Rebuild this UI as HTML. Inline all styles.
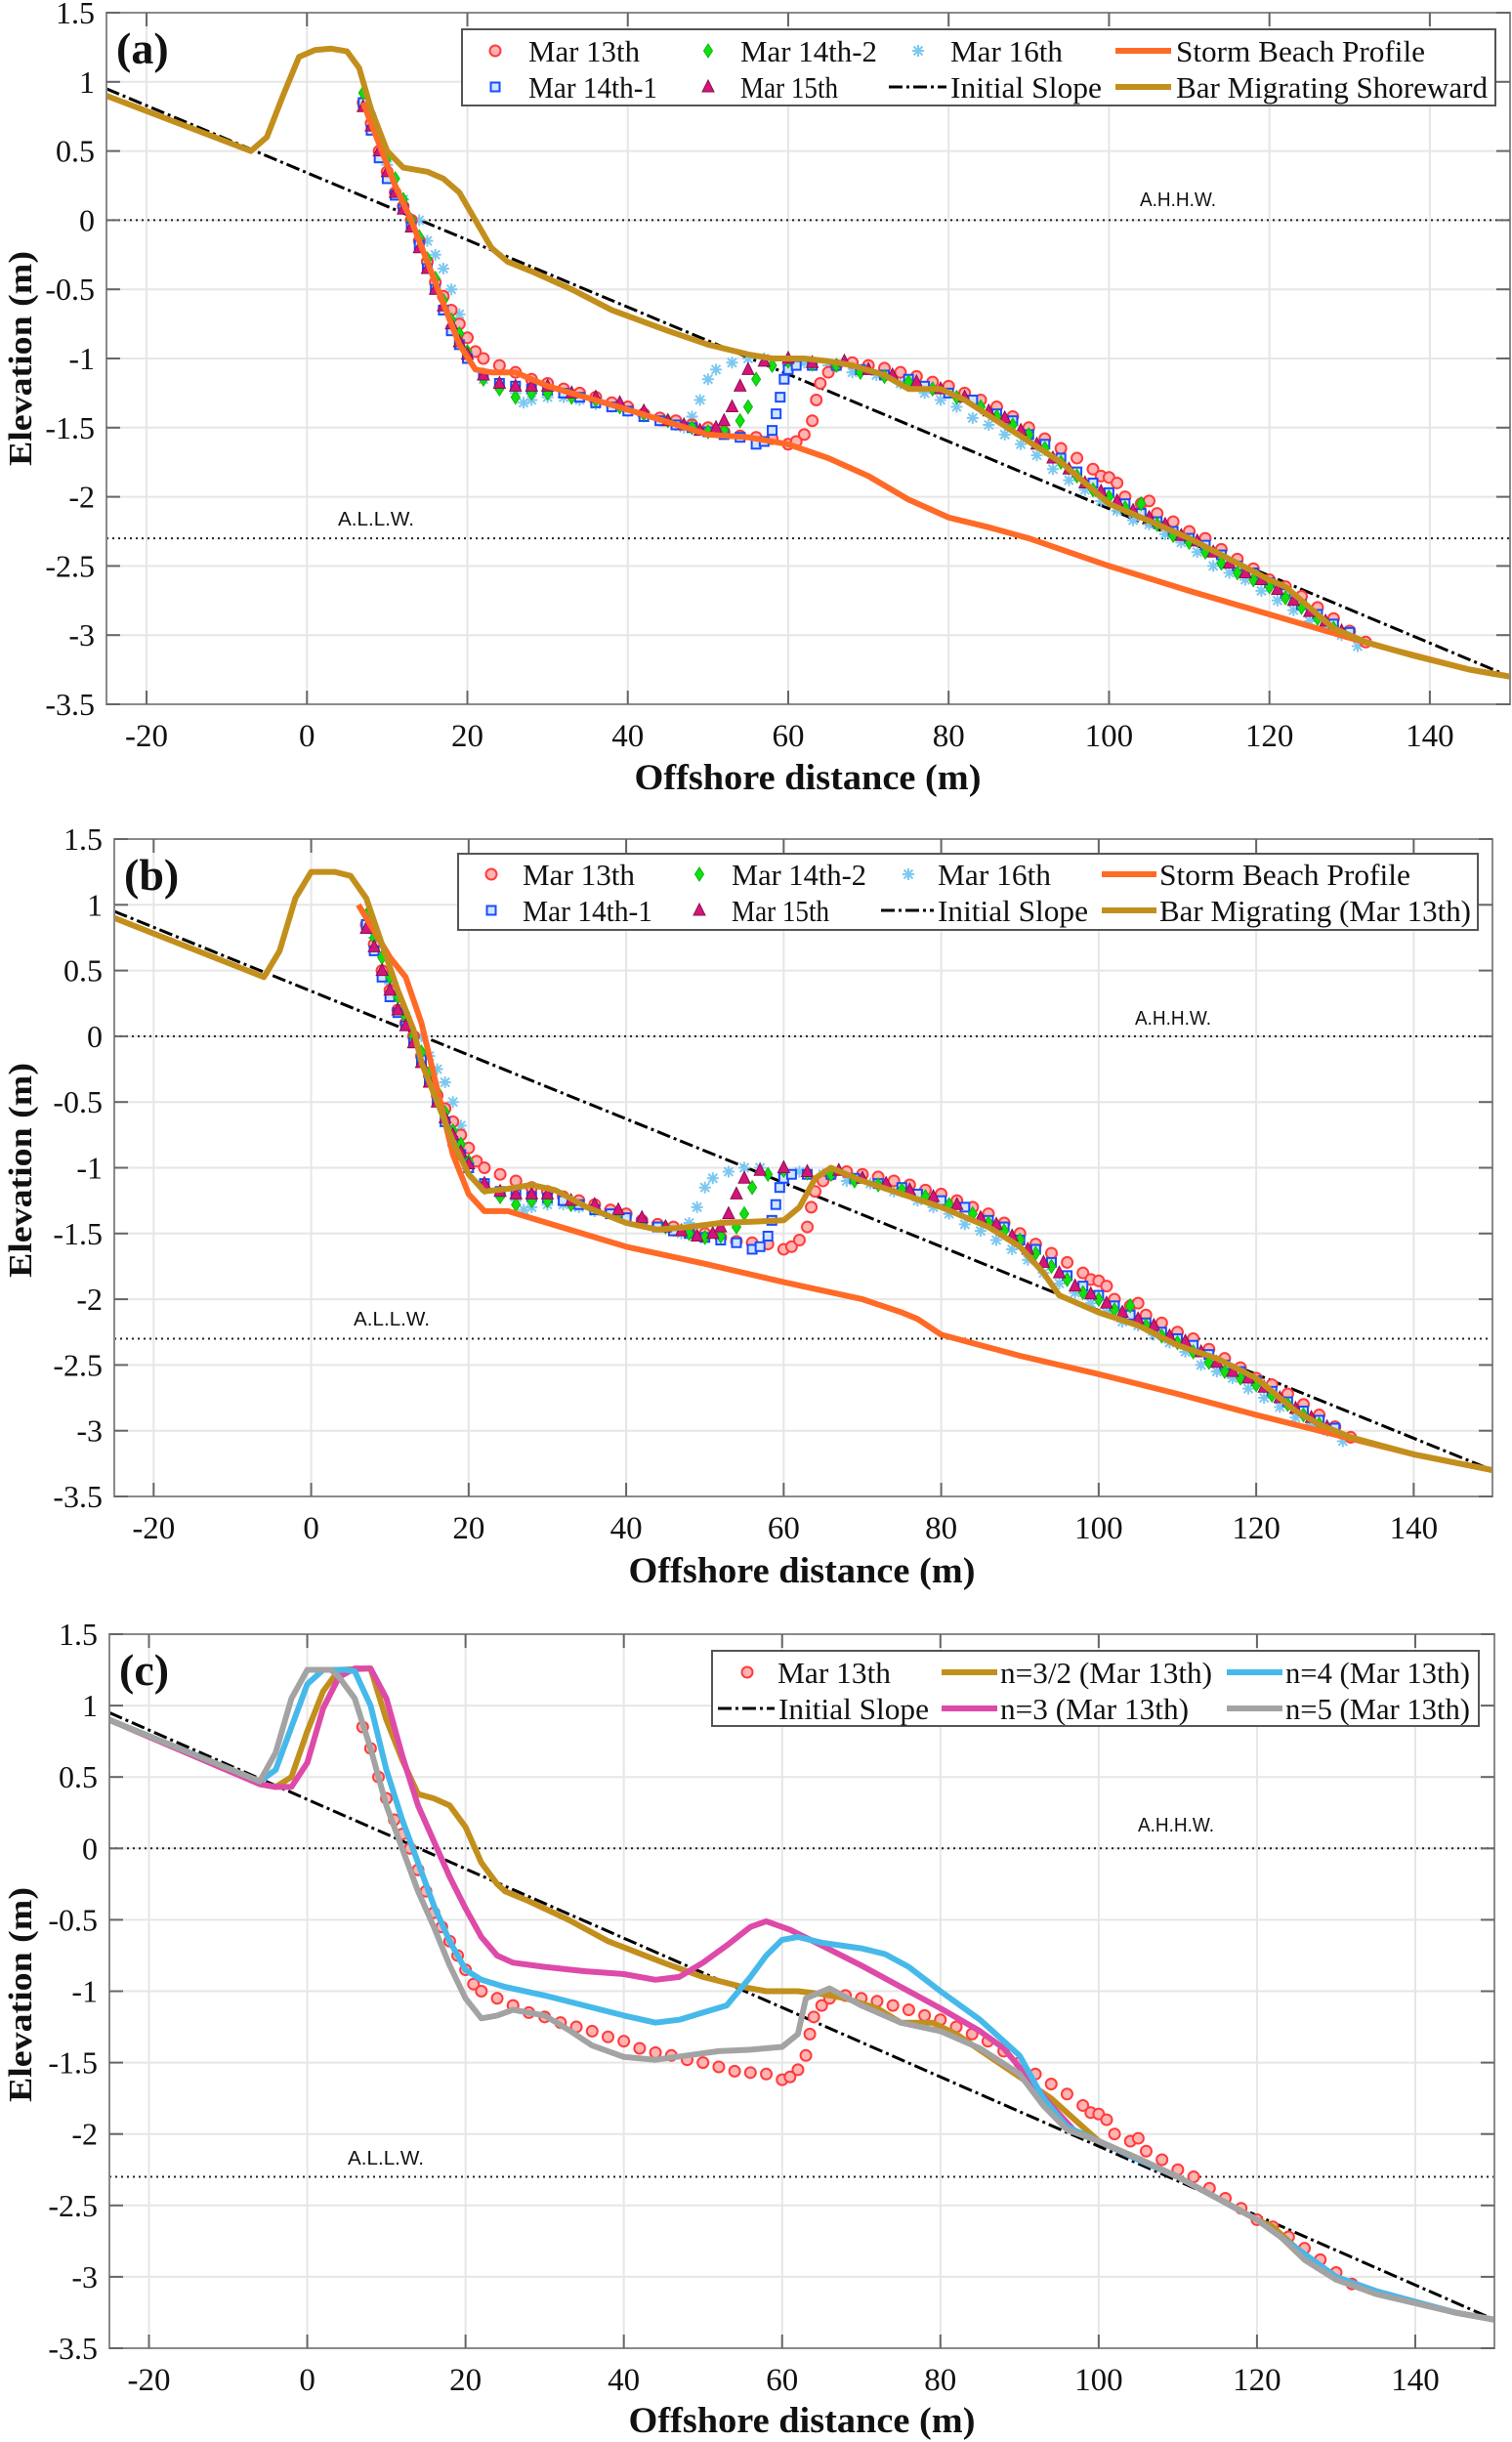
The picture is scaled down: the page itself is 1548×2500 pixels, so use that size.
<!DOCTYPE html>
<html><head><meta charset="utf-8"><title>Beach profiles</title>
<style>
html,body{margin:0;padding:0;background:#fff;}
svg{display:block;}
text{font-family:"Liberation Serif",serif;}
text.sans{font-family:"Liberation Sans",sans-serif;}
</style></head>
<body>
<svg id="fig" xmlns="http://www.w3.org/2000/svg" width="1548" height="2500" viewBox="0 0 1548 2500"></svg>
<script>
// ---------- shared data ----------
const xTicks = [-20,0,20,40,60,80,100,120,140];
const yTicks = [1.5,1,0.5,0,-0.5,-1,-1.5,-2,-2.5,-3,-3.5];
const yTickLabels = ["1.5","1","0.5","0","-0.5","-1","-1.5","-2","-2.5","-3","-3.5"];
const ahhw = 0, allw = -2.3;
const slopeX = [-25,150];
const slopeY = [0.95,-3.3];

const m13X = [7,8,9,10,11,12,13,14,15,16,17,18,19,20,21,22,24,26,28,30,32,34,36,38,40,42,44,46,48,50,52,54,56,58,60,61,62,63,63.5,64,65,66,68,70,72,74,76,78,80,82,84,86,88,90,92,94,96,98,99,100,101,102,104,105,106,108,110,112,114,116,118,120,122,124,126,128,130,132];
const m13Y = [0.85,0.7,0.5,0.35,0.2,0.1,0,-0.15,-0.3,-0.45,-0.55,-0.65,-0.75,-0.85,-0.95,-1.0,-1.05,-1.1,-1.15,-1.18,-1.22,-1.25,-1.28,-1.32,-1.35,-1.4,-1.43,-1.45,-1.48,-1.5,-1.53,-1.56,-1.57,-1.58,-1.62,-1.6,-1.55,-1.45,-1.3,-1.18,-1.1,-1.05,-1.03,-1.05,-1.07,-1.1,-1.13,-1.17,-1.2,-1.25,-1.3,-1.35,-1.42,-1.5,-1.58,-1.65,-1.72,-1.8,-1.85,-1.86,-1.9,-2.0,-2.05,-2.03,-2.12,-2.18,-2.25,-2.3,-2.38,-2.45,-2.52,-2.6,-2.65,-2.72,-2.8,-2.88,-2.97,-3.05];

const m141X = [7,8,9,10,11,12,13,14,15,16,17,18,19,20,22,24,26,28,30,32,34,36,38,40,42,44,46,48,50,52,54,56,57,58,58.5,59,59.5,60,61,63,66,69,72,75,77,80,83,86,88,90,92,94,96,98,100,102,104,106,108,110,112,114,116,118,120,122,124,126,128,130];
const m141Y = [0.85,0.65,0.45,0.3,0.18,0.08,-0.05,-0.18,-0.35,-0.5,-0.65,-0.8,-0.9,-1.0,-1.12,-1.18,-1.2,-1.22,-1.23,-1.25,-1.28,-1.32,-1.35,-1.38,-1.42,-1.45,-1.48,-1.5,-1.53,-1.55,-1.57,-1.62,-1.6,-1.52,-1.4,-1.28,-1.15,-1.08,-1.05,-1.05,-1.05,-1.08,-1.12,-1.15,-1.2,-1.25,-1.3,-1.4,-1.45,-1.55,-1.62,-1.72,-1.82,-1.9,-1.97,-2.05,-2.12,-2.18,-2.25,-2.3,-2.35,-2.42,-2.5,-2.55,-2.62,-2.7,-2.78,-2.85,-2.92,-2.98];

const m142X = [7,8,9,10,11,12,13,14,15,16,17,18,19,20,22,24,26,28,30,33,36,39,42,45,48,50,52,54,55,56,58,60,63,66,69,72,75,78,81,84,86,88,90,92,94,96,98,100,102,104,106,108,110,112,114,116,118,120,122,124,126,128];
const m142Y = [0.92,0.75,0.6,0.45,0.3,0.15,0,-0.12,-0.28,-0.42,-0.58,-0.72,-0.82,-0.95,-1.15,-1.22,-1.28,-1.25,-1.25,-1.28,-1.3,-1.35,-1.4,-1.45,-1.5,-1.53,-1.52,-1.45,-1.35,-1.15,-1.05,-1.02,-1.04,-1.05,-1.1,-1.13,-1.17,-1.22,-1.28,-1.35,-1.42,-1.48,-1.55,-1.65,-1.75,-1.85,-1.95,-2.0,-2.08,-2.05,-2.2,-2.28,-2.33,-2.4,-2.48,-2.55,-2.6,-2.65,-2.73,-2.8,-2.88,-2.95];

const m15X = [7,8,9,10,11,12,13,14,15,16,17,18,19,20,22,24,26,28,30,33,36,39,42,45,47,49,51,52,53,54,55,57,60,63,67,70,73,76,79,82,85,87,89,91,93,95,97,99,101,103,105,107,109,111,113,115,117,119,121,123,125,127,129];
const m15Y = [0.82,0.68,0.5,0.35,0.2,0.08,-0.05,-0.2,-0.35,-0.5,-0.62,-0.75,-0.88,-0.97,-1.12,-1.18,-1.2,-1.2,-1.2,-1.25,-1.28,-1.32,-1.38,-1.45,-1.48,-1.52,-1.5,-1.45,-1.35,-1.2,-1.08,-1.02,-1.0,-1.03,-1.02,-1.08,-1.12,-1.17,-1.22,-1.28,-1.38,-1.43,-1.52,-1.62,-1.72,-1.8,-1.9,-1.96,-2.03,-2.1,-2.15,-2.2,-2.28,-2.32,-2.4,-2.48,-2.55,-2.6,-2.67,-2.75,-2.83,-2.9,-2.97];

const m16X = [8,10,12,14,15,16,17,18,19,20,22,24,26,27,28,30,32,34,36,38,40,42,44,46,47,48,49,50,51,53,55,57,60,62,65,68,71,74,77,79,81,83,85,87,89,91,93,95,97,99,101,103,105,107,109,111,113,115,117,119,121,123,125,127,129,131];
const m16Y = [0.75,0.4,0.15,0.0,-0.15,-0.25,-0.35,-0.5,-0.68,-0.85,-1.15,-1.2,-1.25,-1.32,-1.3,-1.28,-1.28,-1.3,-1.33,-1.35,-1.38,-1.42,-1.45,-1.48,-1.5,-1.42,-1.3,-1.15,-1.08,-1.03,-1.0,-1.0,-1.05,-1.03,-1.05,-1.1,-1.12,-1.18,-1.25,-1.3,-1.35,-1.43,-1.48,-1.55,-1.62,-1.7,-1.8,-1.88,-1.95,-2.03,-2.1,-2.17,-2.2,-2.27,-2.33,-2.4,-2.5,-2.55,-2.6,-2.68,-2.75,-2.82,-2.9,-2.95,-3.0,-3.08];

// panel (a) lines
const stormAX = [7,9,11,13,15,17,19,21,23,26,30,40,50,55,60,65,70,75,80,85,90,100,110,120,130,135,145,150];
const stormAY = [0.85,0.55,0.25,0,-0.3,-0.6,-0.9,-1.08,-1.1,-1.1,-1.2,-1.37,-1.55,-1.57,-1.62,-1.72,-1.85,-2.02,-2.15,-2.22,-2.3,-2.5,-2.68,-2.85,-3.02,-3.1,-3.25,-3.3];
const barAX = [-25,-7,-5,-3,-1,1,3,5,6.5,8,10,12,15,17,19,21,23,25,28,33,38,45,50,55,58,62,65,68,72,75,79,82,86,90,94,97,100,104,110,115,120,122,125,128,132,138,145,150];
const barAY = [0.9,0.5,0.6,0.9,1.18,1.23,1.24,1.22,1.1,0.8,0.5,0.38,0.35,0.3,0.2,0,-0.2,-0.3,-0.37,-0.5,-0.65,-0.8,-0.9,-0.97,-1.0,-1.0,-1.02,-1.05,-1.12,-1.22,-1.22,-1.3,-1.45,-1.6,-1.75,-1.9,-2.05,-2.15,-2.3,-2.45,-2.6,-2.65,-2.8,-2.95,-3.05,-3.15,-3.25,-3.3];

// panel (b) lines
const stormBX = [6,8,10,12,14,16,18,20,22,25,30,40,50,60,70,75,77,80,90,100,110,120,130,140,150];
const stormBY = [1.0,0.8,0.6,0.45,0.1,-0.4,-0.9,-1.2,-1.33,-1.33,-1.42,-1.6,-1.73,-1.87,-2.0,-2.1,-2.15,-2.27,-2.43,-2.57,-2.72,-2.88,-3.03,-3.18,-3.3];
const barBX = [-25,-6,-4,-2,0,3,5,7,9,11,13,14,16,18,20,22,25,28,31,35,40,44,48,52,56,60,62,64,66,70,75,80,86,90,93,95,100,105,110,115,120,122,125,128,132,140,150];
const barBY = [0.9,0.45,0.65,1.05,1.25,1.25,1.22,1.05,0.7,0.35,0.05,-0.2,-0.5,-0.8,-1.05,-1.18,-1.16,-1.13,-1.17,-1.3,-1.42,-1.47,-1.45,-1.42,-1.41,-1.4,-1.3,-1.08,-1.0,-1.1,-1.2,-1.3,-1.45,-1.6,-1.8,-1.97,-2.1,-2.2,-2.35,-2.45,-2.6,-2.7,-2.85,-2.95,-3.05,-3.18,-3.3];

// panel (c) lines
const n15X = [-25,-6,-4,-2,0,2,4,8,10,12,14,16,18,20,22,24,25,28,33,38,45,50,55,58,62,65,68,72,75,79,82,86,90,94,97,100,104,110,115,120,122,125,128,132,138,145,150];
const n15Y = [0.9,0.45,0.43,0.5,0.82,1.1,1.25,1.26,0.9,0.62,0.38,0.35,0.3,0.15,-0.1,-0.25,-0.3,-0.37,-0.5,-0.65,-0.8,-0.9,-0.97,-1.0,-1.0,-1.02,-1.05,-1.12,-1.22,-1.22,-1.3,-1.45,-1.6,-1.75,-1.9,-2.05,-2.15,-2.3,-2.45,-2.6,-2.65,-2.8,-2.95,-3.05,-3.15,-3.25,-3.3];
const n3X = [-25,-6,-4,-2,0,2,4,6,8,10,12,14,16,18,20,22,24,26,30,35,40,44,47,50,53,56,58,61,65,70,75,80,85,88,91,94,97,100,105,110,115,120,125,130,135,145,150];
const n3Y = [0.9,0.45,0.43,0.43,0.6,0.98,1.2,1.26,1.26,1.05,0.65,0.3,0.05,-0.2,-0.42,-0.62,-0.75,-0.8,-0.83,-0.86,-0.88,-0.92,-0.9,-0.8,-0.68,-0.55,-0.51,-0.57,-0.68,-0.82,-0.97,-1.12,-1.28,-1.4,-1.6,-1.8,-1.98,-2.05,-2.18,-2.3,-2.45,-2.6,-2.8,-3.0,-3.1,-3.25,-3.3];
const n4X = [-25,-6,-4,-2,0,2,5,6,8,10,12,14,16,18,20,22,25,30,35,40,44,47,50,53,56,58,60,62,65,70,73,76,80,85,90,93,96,100,105,110,115,120,125,130,135,145,150];
const n4Y = [0.9,0.47,0.55,0.85,1.15,1.25,1.25,1.24,1.0,0.55,0.2,-0.1,-0.4,-0.65,-0.85,-0.92,-0.97,-1.03,-1.1,-1.17,-1.22,-1.2,-1.15,-1.1,-0.9,-0.75,-0.64,-0.62,-0.66,-0.7,-0.74,-0.83,-1.0,-1.2,-1.45,-1.75,-1.95,-2.05,-2.18,-2.3,-2.45,-2.6,-2.8,-3.0,-3.1,-3.25,-3.3];
const n5X = [-25,-6,-4,-2,0,3,4,6,8,10,12,14,16,18,20,22,24,26,30,33,36,40,44,48,52,56,60,62,63,66,70,75,80,85,90,93,96,100,105,110,115,120,123,126,130,135,145,150];
const n5Y = [0.9,0.47,0.67,1.05,1.25,1.25,1.2,1.05,0.7,0.3,0,-0.3,-0.55,-0.82,-1.05,-1.19,-1.17,-1.13,-1.17,-1.27,-1.38,-1.46,-1.48,-1.45,-1.42,-1.41,-1.39,-1.3,-1.05,-0.98,-1.1,-1.22,-1.28,-1.4,-1.58,-1.8,-1.97,-2.05,-2.17,-2.3,-2.45,-2.6,-2.72,-2.88,-3.02,-3.12,-3.25,-3.3];

// ---------- drawing ----------
const NS = "http://www.w3.org/2000/svg";
const svg = document.getElementById('fig');
function mk(tag, attrs, parent){
  const e = document.createElementNS(NS, tag);
  for (const k in attrs) e.setAttribute(k, attrs[k]);
  (parent||svg).appendChild(e);
  return e;
}
const C = {red:'#ff3b3b', redF:'#ffb3b3', blue:'#1a4cff', green:'#10e010', mag:'#d4157a', cyan:'#7cc8f0',
  orange:'#ff6a26', gold:'#c28f1c', pink:'#dd4aa8', sky:'#46b9ea', gray:'#a3a3a3'};

function drawMarker(g, type, px, py){
  let e;
  if (type==='circle'){
    e = mk('circle',{cx:px,cy:py,r:5.5,fill:C.redF,stroke:C.red,'stroke-width':2},g);
  } else if (type==='square'){
    e = mk('rect',{x:px-4.5,y:py-4.5,width:9,height:9,fill:'#cfe4ff',stroke:C.blue,'stroke-width':2},g);
  } else if (type==='diamond'){
    e = mk('polygon',{points:`${px},${py-7} ${px+4.5},${py} ${px},${py+7} ${px-4.5},${py}`,fill:C.green,stroke:'#0cb80c','stroke-width':1},g);
  } else if (type==='triangle'){
    e = mk('polygon',{points:`${px},${py-7} ${px+6},${py+5} ${px-6},${py+5}`,fill:C.mag,stroke:'#8a1050','stroke-width':1},g);
  } else {
    e = mk('path',{d:`M${px-6},${py}H${px+6}M${px},${py-6}V${py+6}M${px-4.5},${py-4.5}L${px+4.5},${py+4.5}M${px-4.5},${py+4.5}L${px+4.5},${py-4.5}`,stroke:C.cyan,'stroke-width':2,fill:'none'},g);
  }
  
  
}

function panel(P){
  const sx = v => P.L + (v - (-25)) / 175 * (P.R - P.L);
  const sy = v => P.T + (1.5 - v) / 5 * (P.B - P.T);
  const g = mk('g',{});
  
  
  xTicks.forEach(t => { const l = mk('line',{x1:sx(t),x2:sx(t),y1:P.T,y2:P.B,stroke:'#e6e6e6','stroke-width':2},g);
      });
  yTicks.forEach(t => { const l = mk('line',{x1:P.L,x2:P.R,y1:sy(t),y2:sy(t),stroke:'#e6e6e6','stroke-width':2},g);
      });
  [[ahhw,'A.H.H.W.',P.ahx,P.ahy],[allw,'A.L.L.W.',P.alx,P.aly]].forEach(r=>{
    const l = mk('line',{x1:P.L,x2:P.R,y1:sy(r[0]),y2:sy(r[0]),stroke:'#222','stroke-width':2,'stroke-dasharray':'2 4'},g);
    
    
    const t = mk('text',{x:r[2],y:r[3],'font-size':20,'class':'sans',fill:'#111',textLength:78,lengthAdjust:'spacingAndGlyphs'},g);
    t.textContent = r[1];
    
    
  });
  const cid = 'clip'+P.id;
  const cp = mk('clipPath',{id:cid},g);
  mk('rect',{x:P.L,y:P.T,width:P.R-P.L,height:P.B-P.T},cp);
  const dg = mk('g',{'clip-path':`url(#${cid})`},g);
  
  
  function line(xs, ys, color, w, name, dash){
    const d = xs.map((x,i)=>(i?'L':'M')+sx(x).toFixed(1)+','+sy(ys[i]).toFixed(1)).join('');
    const p = mk('path',{d:d,fill:'none',stroke:color,'stroke-width':w,'stroke-linejoin':'round'},dg);
    if (dash) p.setAttribute('stroke-dasharray', dash);
    
    
  }
  function pts(xs, ys, type, name){
    const sg = mk('g',{},dg);
    
    
    xs.forEach((x,i)=>drawMarker(sg, type, sx(x), sy(ys[i])));
  }
  P.draw(line, pts);
  const box = mk('rect',{x:P.L,y:P.T,width:P.R-P.L,height:P.B-P.T,fill:'none',stroke:'#8a8a8a','stroke-width':2},g);
   
  xTicks.forEach(t=>{
    mk('line',{x1:sx(t),x2:sx(t),y1:P.B,y2:P.B-14,stroke:'#666','stroke-width':2},g);
    mk('line',{x1:sx(t),x2:sx(t),y1:P.T,y2:P.T+14,stroke:'#666','stroke-width':2},g);
    const tx = mk('text',{x:sx(t),y:P.B+43,'font-size':33,'text-anchor':'middle',fill:'#111'},g);
    tx.textContent = String(t);
     
  });
  yTicks.forEach((t,i)=>{
    mk('line',{x1:P.L,x2:P.L+14,y1:sy(t),y2:sy(t),stroke:'#666','stroke-width':2},g);
    mk('line',{x1:P.R,x2:P.R-14,y1:sy(t),y2:sy(t),stroke:'#666','stroke-width':2},g);
    const ty = mk('text',{x:P.L-12,y:sy(t)+11,'font-size':32,'text-anchor':'end',fill:'#111'},g);
    ty.textContent = yTickLabels[i];
     
  });
  const xl = mk('text',{x:P.xlx,y:P.xly,'font-size':37,'font-weight':'bold','text-anchor':'middle',fill:'#111',textLength:355,lengthAdjust:'spacingAndGlyphs'},g);
  xl.textContent = 'Offshore distance (m)';
   
  const yl = mk('text',{x:0,y:0,'font-size':34,'font-weight':'bold','text-anchor':'middle',fill:'#111',transform:`translate(32,${P.yly}) rotate(-90)`,textLength:220,lengthAdjust:'spacingAndGlyphs'},g);
  yl.textContent = 'Elevation (m)';
   
  const pl = mk('text',{x:P.L+10,y:P.T+52,'font-size':46,'font-weight':'bold',fill:'#111'},g);
  pl.textContent = '('+P.id+')';
   
  const lg = mk('g',{},g);
   
  mk('rect',{x:P.leg[0],y:P.leg[1],width:P.leg[2]-P.leg[0],height:P.leg[3]-P.leg[1],fill:'#fff',stroke:'#555','stroke-width':2},lg);
  P.entries.forEach(en=>{
    const eg = mk('g',{},lg);
     
    if (en.kind==='line'){
      const l = mk('line',{x1:en.sx,x2:en.sx2,y1:en.y,y2:en.y,stroke:en.color,'stroke-width':en.w},eg);
      if (en.dash) l.setAttribute('stroke-dasharray',en.dash);
    } else drawMarker(eg, en.kind, en.sx, en.y);
    const t = mk('text',{x:en.tx,y:en.y+11,'font-size':31,fill:'#111',textLength:en.tw,lengthAdjust:'spacingAndGlyphs'},eg);
    t.textContent = en.label;
  });
}

const DASH = '14 4 3 4';
function surveyEntries(r1, r2, cols, lineCol, lastLabel){
  return [
    {kind:'circle',sx:cols[0][0],tx:cols[0][1],tw:cols[0][2],y:r1,label:'Mar 13th'},
    {kind:'square',sx:cols[0][0],tx:cols[0][1],tw:cols[0][3],y:r2,label:'Mar 14th-1'},
    {kind:'diamond',sx:cols[1][0],tx:cols[1][1],tw:cols[1][2],y:r1,label:'Mar 14th-2'},
    {kind:'triangle',sx:cols[1][0],tx:cols[1][1],tw:cols[1][3],y:r2,label:'Mar 15th'},
    {kind:'star',sx:cols[2][0],tx:cols[2][1],tw:cols[2][2],y:r1,label:'Mar 16th'},
    {kind:'line',sx:cols[2][4],sx2:cols[2][1]-4,tx:cols[2][1],tw:cols[2][3],y:r2,label:'Initial Slope',color:'#000',w:3,dash:DASH},
    {kind:'line',sx:cols[3][0],sx2:cols[3][1],tx:cols[3][2],tw:cols[3][3],y:r1,label:'Storm Beach Profile',color:C.orange,w:6},
    {kind:'line',sx:cols[3][0],sx2:cols[3][1],tx:cols[3][2],tw:cols[3][4],y:r2,label:lastLabel,color:C.gold,w:6}
  ];
}
function drawSurvey(line, pts){
  line(slopeX, slopeY, '#000', 3, 'initial-slope', DASH);
  pts(m16X, m16Y, 'star', 'mar16-points');
  pts(m13X, m13Y, 'circle', 'mar13-points');
  pts(m141X, m141Y, 'square', 'mar14-1-points');
  pts(m142X, m142Y, 'diamond', 'mar14-2-points');
  pts(m15X, m15Y, 'triangle', 'mar15-points');
}

panel({id:'a', L:109, R:1546, T:13, B:721, ahx:1167, ahy:211, alx:346, aly:538, xlx:827, xly:808, yly:367,
  leg:[473,30,1531,108],
  entries: surveyEntries(52,89,[[507,541,114,132],[725,758,140,100],[940,973,115,155,910],[1142,1199,1204,255,319]],C.gold,'Bar Migrating Shoreward'),
  draw:(line,pts)=>{ drawSurvey(line,pts); line(stormAX,stormAY,C.orange,6,'storm-beach-profile'); line(barAX,barAY,C.gold,6,'bar-migrating-shoreward'); }
});
panel({id:'b', L:117, R:1528, T:859, B:1532, ahx:1162, ahy:1049, alx:362, aly:1357, xlx:821, xly:1620, yly:1198,
  leg:[469,874,1513,952],
  entries: surveyEntries(895,932,[[503,535,115,133],[716,749,138,100],[930,960,116,154,902],[1128,1184,1187,257,319]],C.gold,'Bar Migrating (Mar 13th)'),
  draw:(line,pts)=>{ drawSurvey(line,pts); line(stormBX,stormBY,C.orange,6,'storm-beach-profile'); line(barBX,barBY,C.gold,6,'bar-migrating-mar13'); }
});
panel({id:'c', L:112, R:1530, T:1673, B:2404, ahx:1165, ahy:1875, alx:356, aly:2216, xlx:821, xly:2490, yly:2042,
  leg:[729,1690,1514,1767],
  entries:[
    {kind:'circle',sx:765,tx:796,tw:116,y:1712,label:'Mar 13th'},
    {kind:'line',sx:735,sx2:793,tx:797,tw:154,y:1749,label:'Initial Slope',color:'#000',w:3,dash:DASH},
    {kind:'line',sx:964,sx2:1021,tx:1024,tw:217,y:1712,label:'n=3/2 (Mar 13th)',color:C.gold,w:6},
    {kind:'line',sx:964,sx2:1021,tx:1024,tw:193,y:1749,label:'n=3 (Mar 13th)',color:C.pink,w:6},
    {kind:'line',sx:1256,sx2:1313,tx:1316,tw:189,y:1712,label:'n=4 (Mar 13th)',color:C.sky,w:6},
    {kind:'line',sx:1256,sx2:1313,tx:1316,tw:189,y:1749,label:'n=5 (Mar 13th)',color:C.gray,w:6}
  ],
  draw:(line,pts)=>{
    line(slopeX, slopeY, '#000', 3, 'initial-slope', DASH);
    pts(m13X, m13Y, 'circle', 'mar13-points');
    line(n15X,n15Y,C.gold,6,'n-3-2-line');
    line(n3X,n3Y,C.pink,6,'n-3-line');
    line(n4X,n4Y,C.sky,6,'n-4-line');
    line(n5X,n5Y,C.gray,6,'n-5-line');
  }
});
</script>
</body></html>
